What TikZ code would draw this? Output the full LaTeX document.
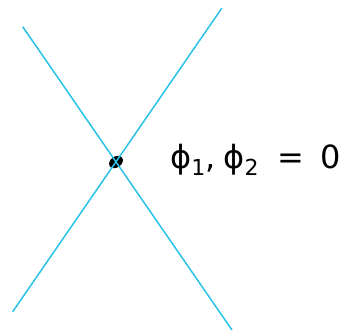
\documentclass[tikz,border=0pt]{standalone}
\usepackage{tikz}
\usepackage{fontspec}
\usetikzlibrary{positioning, shapes.geometric}
\newfontfamily\labelfont{DejaVu Sans}
\definecolor{linecyan}{RGB}{40,195,230}
\newcommand{\sub}[1]{\raisebox{-0.22em}{\fontsize{22}{26}\selectfont #1}}

\begin{document}
\begin{tikzpicture}[
        x=1pt, y=-1pt,
        line/.style={draw=linecyan, line width=1.5pt},
        dot/.style={ellipse, fill=black, minimum width=15pt, minimum height=11pt, inner sep=0pt, rotate=35},
        label/.style={font=\labelfont\fontsize{32}{37}\selectfont, inner sep=0pt},
    ]
    \useasboundingbox (0,0) rectangle (350,330);

    % ===== End points of the two lines =====
    \coordinate (A1) at (22.7,26.7);
    \coordinate (A2) at (232,330);
    \coordinate (B1) at (221.7,8.3);
    \coordinate (B2) at (12.7,311.7);

    % ===== Crossing point =====
    \node[dot] (X) at (116,162) {};

    \draw[line] (A1) -- (A2);
    \draw[line] (B1) -- (B2);

    \node[label, anchor=base west] (L) at (170,168) {ϕ\sub{1},\kern0.25em ϕ\sub{2}\kern0.6em=\kern0.5em0};

    \end{tikzpicture}
\end{document}
